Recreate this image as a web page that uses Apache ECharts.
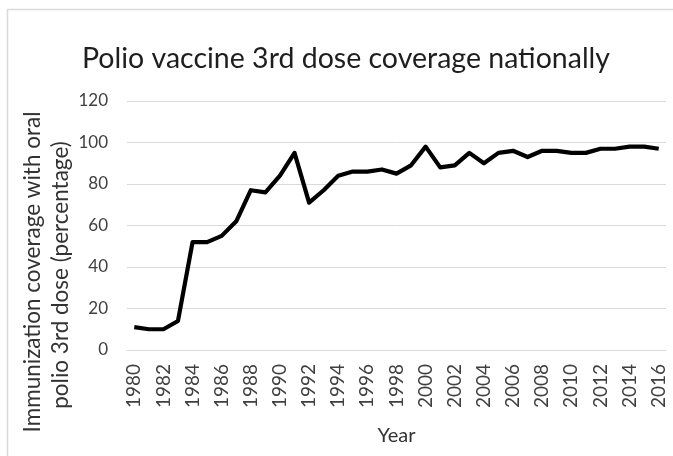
<!DOCTYPE html>
<html>
<head>
<meta charset="utf-8">
<script src="https://cdn.jsdelivr.net/npm/echarts@6/dist/echarts.min.js"></script>
<style>
  html, body { margin: 0; padding: 0; background: #fff; }
  #chart { width: 673px; height: 456px; }
</style>
</head>
<body>
<div id="chart"></div>
<script>
// Years shown on the category axis
const years = [
  '1980','1981','1982','1983','1984','1985','1986','1987','1988','1989',
  '1990','1991','1992','1993','1994','1995','1996','1997','1998','1999',
  '2000','2001','2002','2003','2004','2005','2006','2007','2008','2009',
  '2010','2011','2012','2013','2014','2015','2016'
];

// Oral polio vaccine 3rd dose coverage, percent
const coverage = [
  11, 10, 10, 14, 52, 52, 55, 62, 77, 76,
  84, 95, 71, 77, 84, 86, 86, 87, 85, 89,
  98, 88, 89, 95, 90, 95, 96, 93, 96, 96,
  95, 95, 97, 97, 98, 98, 97
];

const titleText = 'Polio vaccine 3rd dose coverage nationally';
const yTitleLines = ['Immunization coverage with oral', 'polio 3rd dose (percentage)'];
const xTitle = 'Year';

const FONT = 'Lato';
const chart = echarts.init(document.getElementById('chart'), null, { renderer: 'canvas' });

chart.setOption({
  animation: false,
  backgroundColor: '#ffffff',
  title: {
    text: titleText,
    left: 341,
    top: 39,
    textAlign: 'center',
    textStyle: { fontFamily: FONT, fontSize: 28.5, fontWeight: 'normal', color: '#1e1e1e' }
  },
  grid: { left: 127, right: 7, top: 101, bottom: 106, containLabel: false },
  xAxis: {
    type: 'category',
    data: years,
    boundaryGap: true,
    name: xTitle,
    nameLocation: 'middle',
    nameGap: 76,
    nameTextStyle: { fontFamily: FONT, fontSize: 20, color: '#333' },
    axisLine: { show: true, lineStyle: { color: '#d9d9d9', width: 1 } },
    axisTick: { show: false },
    axisLabel: {
      interval: 1,
      rotate: 90,
      margin: 14,
      fontFamily: FONT,
      fontSize: 19,
      color: '#404040'
    }
  },
  yAxis: {
    type: 'value',
    min: 0,
    max: 120,
    interval: 20,
    axisLine: { show: false },
    axisTick: { show: false },
    splitLine: { lineStyle: { color: '#d9d9d9', width: 1 } },
    axisLabel: { margin: 19, fontFamily: FONT, fontSize: 17, color: '#404040' }
  },
  graphic: [
    {
      type: 'rect',
      shape: { x: 7.5, y: 9.5, width: 700, height: 500 },
      style: { fill: 'none', stroke: '#d9d9d9', lineWidth: 1.5 },
      silent: true
    },
    {
      type: 'text',
      x: 33, y: 272,
      rotation: Math.PI / 2,
      style: {
        text: yTitleLines[0],
        fontFamily: FONT, fontSize: 22.5, fill: '#333',
        textAlign: 'center', textVerticalAlign: 'middle'
      }
    },
    {
      type: 'text',
      x: 61, y: 275,
      rotation: Math.PI / 2,
      style: {
        text: yTitleLines[1],
        fontFamily: FONT, fontSize: 22.5, fill: '#333',
        textAlign: 'center', textVerticalAlign: 'middle'
      }
    }
  ],
  series: [{
    type: 'line',
    data: coverage,
    symbol: 'none',
    lineStyle: { color: '#000', width: 4.2, join: 'round' }
  }]
});
</script>
</body>
</html>
